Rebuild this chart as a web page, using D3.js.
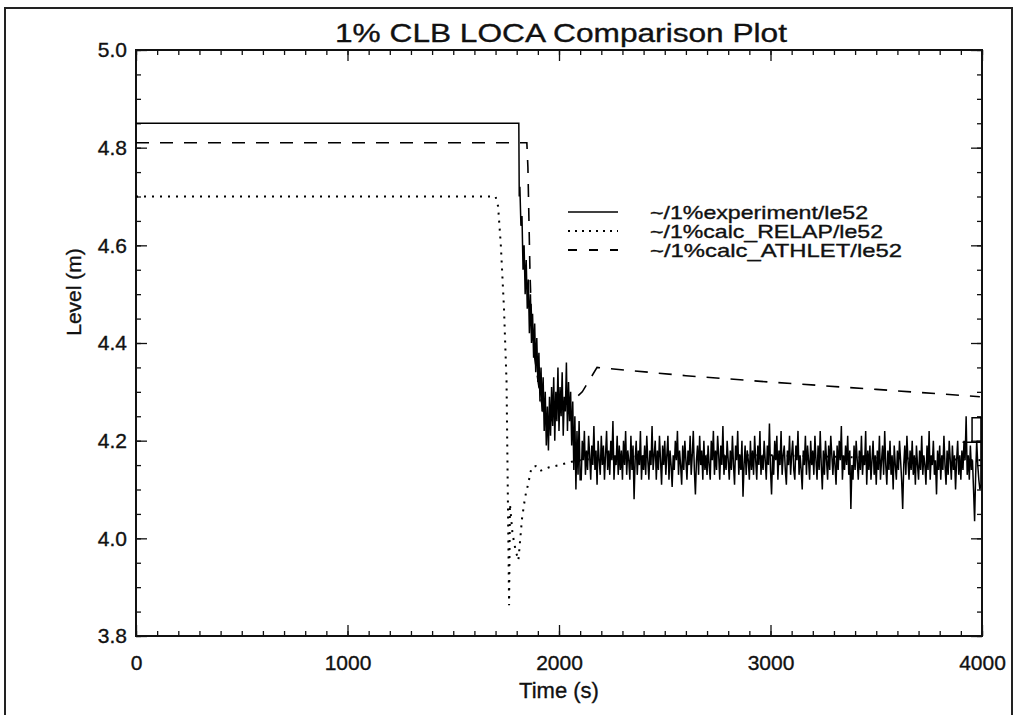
<!DOCTYPE html>
<html><head><meta charset="utf-8">
<script src="https://cdn.jsdelivr.net/npm/d3@7"></script>
<style>
body{margin:0;background:#fff}
text{font-family:"Liberation Sans",Arial,Helvetica,sans-serif;fill:#111;stroke:#111;stroke-width:0.35px}
</style>
</head><body>
<svg id="c" width="1017" height="715"></svg>
<script>
// ---------------- DATA ----------------
const titleText = "1% CLB LOCA Comparison Plot";
const xLabel = "Time (s)";
const yLabel = "Level (m)";
const xTicks = [0, 1000, 2000, 3000, 4000];
const xMinorTicks = d3.range(0, 4001, 100);
const yTicks = [3.8, 4.0, 4.2, 4.4, 4.6, 4.8, 5.0];
const yMinorTicks = d3.range(3.8, 5.0001, 0.05);
const seriesNames = ["~/1%experiment/le52", "~/1%calc_RELAP/le52", "~/1%calc_ATHLET/le52"];

// experiment: flat part, then sampled drop and noisy plateau
const expHead = [[0, 4.85], [1810, 4.85], [1812, 4.70]];
const expDropStart = 1815, expDropStep = 5;
const expDrop = [4.72, 4.64, 4.66, 4.55, 4.60, 4.50, 4.57, 4.47, 4.53, 4.42, 4.50, 4.40, 4.46, 4.37, 4.44, 4.34,
  4.41, 4.32, 4.38, 4.28, 4.35, 4.26, 4.33, 4.22, 4.30, 4.19, 4.27, 4.18, 4.29, 4.21, 4.31, 4.23, 4.33, 4.20,
  4.30, 4.24, 4.35, 4.22, 4.31, 4.25, 4.34, 4.21, 4.29, 4.26, 4.36, 4.22, 4.32, 4.24, 4.30, 4.19, 4.28, 4.14,
  4.25, 4.10, 4.22, 4.13, 4.24, 4.12];
const expNoiseStart = 2105, expNoiseStep = 5;
const expNoise = [
  4.12, 4.20, 4.16, 4.22, 4.13, 4.18, 4.14, 4.21, 4.17, 4.12, 4.19, 4.15, 4.23, 4.14, 4.18, 4.11, 4.20, 4.16, 4.13, 4.21,
  4.15, 4.19, 4.12, 4.17, 4.22, 4.14, 4.18, 4.13, 4.20, 4.16, 4.24, 4.12, 4.17, 4.15, 4.21, 4.13, 4.19, 4.14, 4.18, 4.12,
  4.20, 4.15, 4.22, 4.13, 4.18, 4.16, 4.12, 4.21, 4.14, 4.19, 4.08, 4.16, 4.20, 4.13, 4.18, 4.15, 4.22, 4.12, 4.17, 4.14,
  4.19, 4.13, 4.21, 4.16, 4.12, 4.18, 4.15, 4.23, 4.14, 4.17, 4.20, 4.12, 4.18, 4.14, 4.21, 4.16, 4.11, 4.19, 4.15, 4.20,
  4.13, 4.17, 4.21, 4.12, 4.18, 4.15, 4.105, 4.17, 4.14, 4.20, 4.16, 4.22, 4.13, 4.18, 4.15, 4.11, 4.19, 4.14, 4.20, 4.16,
  4.12, 4.18, 4.15, 4.21, 4.13, 4.17, 4.22, 4.14, 4.09, 4.16, 4.19, 4.13, 4.21, 4.15, 4.18, 4.12, 4.20, 4.14, 4.17, 4.13,
  4.19, 4.15, 4.12, 4.20, 4.16, 4.22, 4.13, 4.18, 4.14, 4.21, 4.17, 4.12, 4.19, 4.15, 4.23, 4.13, 4.17, 4.14, 4.20, 4.16,
  4.12, 4.18, 4.14, 4.21, 4.15, 4.11, 4.19, 4.16, 4.22, 4.13, 4.17, 4.14, 4.20, 4.085, 4.15, 4.19, 4.13, 4.18, 4.16, 4.12,
  4.20, 4.14, 4.18, 4.13, 4.21, 4.16, 4.12, 4.19, 4.15, 4.22, 4.13, 4.17, 4.14, 4.20, 4.16, 4.12, 4.19, 4.15, 4.235, 4.14,
  4.09, 4.17, 4.13, 4.20, 4.16, 4.21, 4.12, 4.18, 4.15, 4.22, 4.13, 4.17, 4.19, 4.14, 4.11, 4.18, 4.15, 4.21, 4.13, 4.17,
  4.20, 4.14, 4.12, 4.19, 4.16, 4.22, 4.13, 4.17, 4.14, 4.10, 4.18, 4.15, 4.21, 4.13, 4.19, 4.16, 4.12, 4.20, 4.15, 4.18,
  4.13, 4.21, 4.16, 4.12, 4.19, 4.14, 4.22, 4.15, 4.10, 4.18, 4.13, 4.20, 4.16, 4.12, 4.19, 4.14, 4.21, 4.17, 4.13, 4.18,
  4.15, 4.11, 4.19, 4.14, 4.20, 4.16, 4.23, 4.12, 4.17, 4.14, 4.19, 4.15, 4.21, 4.13, 4.18, 4.06, 4.15, 4.12, 4.19, 4.14,
  4.20, 4.16, 4.12, 4.18, 4.14, 4.21, 4.13, 4.17, 4.15, 4.22, 4.11, 4.18, 4.14, 4.19, 4.12, 4.16, 4.20, 4.13, 4.17, 4.11,
  4.18, 4.14, 4.21, 4.12, 4.16, 4.19, 4.13, 4.22, 4.15, 4.11, 4.18, 4.14, 4.20, 4.13, 4.17, 4.10, 4.19, 4.15, 4.12, 4.18,
  4.14, 4.20, 4.16, 4.12, 4.06, 4.15, 4.19, 4.13, 4.21, 4.16, 4.12, 4.18, 4.14, 4.20, 4.13, 4.17, 4.11, 4.19, 4.15, 4.12,
  4.18, 4.14, 4.21, 4.13, 4.17, 4.15, 4.11, 4.19, 4.14, 4.22, 4.12, 4.17, 4.15, 4.20, 4.13, 4.16, 4.09, 4.18, 4.14, 4.19,
  4.12, 4.17, 4.14, 4.21, 4.15, 4.11, 4.18, 4.13, 4.20, 4.16, 4.12, 4.19, 4.14, 4.17, 4.10, 4.16, 4.20, 4.13, 4.17, 4.12,
  4.18, 4.14, 4.20, 4.16, 4.25, 4.13, 4.17, 4.12, 4.19, 4.14, 4.16, 4.10, 4.035, 4.13, 4.20, 4.15, 4.12];
const expTail = [[3990, 4.10], [3995, 4.11], [3995, 4.247], [3953, 4.247], [3953, 4.197], [3908, 4.197], [3995, 4.197]];

const relap = [[0, 4.70], [1700, 4.70], [1712, 4.68], [1725, 4.60], [1740, 4.47], [1752, 4.32], [1764, 3.863],
  [1768, 4.07], [1780, 4.01], [1795, 3.975], [1808, 3.955], [1815, 3.99], [1825, 4.04], [1840, 4.085], [1855, 4.113],
  [1870, 4.145], [1890, 4.148], [1910, 4.138], [1950, 4.145], [2000, 4.15], [2060, 4.157], [2100, 4.16],
  [2200, 4.165], [2500, 4.17], [3000, 4.17], [3500, 4.165], [4000, 4.16]];

const athlet = [[0, 4.81], [1848, 4.81], [1853, 4.76], [1858, 4.65], [1863, 4.54], [1870, 4.45], [1885, 4.37],
  [1905, 4.31], [1925, 4.26], [1945, 4.23], [1975, 4.25], [2010, 4.27], [2060, 4.28], [2110, 4.30], [2180, 4.35],
  [2600, 4.333], [3000, 4.32], [3500, 4.305], [3990, 4.29]];

// ---------------- BUILD ----------------
const experiment = expHead
  .concat(expDrop.map((v, i) => [expDropStart + i * expDropStep, v]))
  .concat(expNoise.map((v, i) => [expNoiseStart + i * expNoiseStep, v]))
  .concat(expTail);

const svg = d3.select("#c");
const L = 136, R = 982, T = 50, B = 636;
const x = d3.scaleLinear().domain([0, 4000]).range([L, R]);
const y = d3.scaleLinear().domain([3.8, 5.0]).range([B, T]);

// outer frame
svg.append("rect").attr("x", 5).attr("y", 8).attr("width", 1007).attr("height", 740)
  .attr("fill", "none").attr("stroke", "#222").attr("stroke-width", 2);

// title
svg.append("text").attr("x", 561).attr("y", 42).attr("text-anchor", "middle")
  .attr("font-size", 26).attr("textLength", 452).attr("lengthAdjust", "spacingAndGlyphs").text(titleText);

function styleAxis(g) {
  g.select(".domain").remove();
  g.selectAll(".tick line").attr("stroke", "#111").attr("stroke-width", 1.3);
}
const fmt = d3.format(".1f");
// minor ticks
svg.append("g").attr("transform", `translate(0,${B})`)
  .call(d3.axisBottom(x).tickValues(xMinorTicks).tickSize(-5).tickFormat("")).call(styleAxis);
svg.append("g").attr("transform", `translate(0,${T})`)
  .call(d3.axisTop(x).tickValues(xMinorTicks).tickSize(-5).tickFormat("")).call(styleAxis);
svg.append("g").attr("transform", `translate(${L},0)`)
  .call(d3.axisLeft(y).tickValues(yMinorTicks).tickSize(-5).tickFormat("")).call(styleAxis);
svg.append("g").attr("transform", `translate(${R},0)`)
  .call(d3.axisRight(y).tickValues(yMinorTicks).tickSize(-5).tickFormat("")).call(styleAxis);
// major ticks
const gx = svg.append("g").attr("transform", `translate(0,${B})`)
  .call(d3.axisBottom(x).tickValues(xTicks).tickSize(-11).tickPadding(19).tickFormat(d3.format("d"))).call(styleAxis);
gx.selectAll("text").attr("font-size", 21).attr("fill", "#111").style("font-family", '"Liberation Sans",Arial,sans-serif');
svg.append("g").attr("transform", `translate(0,${T})`)
  .call(d3.axisTop(x).tickValues(xTicks).tickSize(-11).tickFormat("")).call(styleAxis);
const gy = svg.append("g").attr("transform", `translate(${L},0)`)
  .call(d3.axisLeft(y).tickValues(yTicks).tickSize(-11).tickPadding(9).tickFormat(fmt)).call(styleAxis);
gy.selectAll("text").attr("font-size", 21).attr("fill", "#111").style("font-family", '"Liberation Sans",Arial,sans-serif');
svg.append("g").attr("transform", `translate(${R},0)`)
  .call(d3.axisRight(y).tickValues(yTicks).tickSize(-11).tickFormat("")).call(styleAxis);

// plot box
svg.append("rect").attr("x", L).attr("y", T).attr("width", R - L).attr("height", B - T)
  .attr("fill", "none").attr("stroke", "#111").attr("stroke-width", 2);

// axis titles
svg.append("text").attr("x", 559).attr("y", 698).attr("text-anchor", "middle").attr("font-size", 22).text(xLabel);
svg.append("text").attr("transform", "translate(81,292) rotate(-90)").attr("text-anchor", "middle")
  .attr("font-size", 21).text(yLabel);

// series
const line = d3.line().x(d => x(d[0])).y(d => y(d[1]));
const styles = [
  {data: experiment, dash: null, w: 1.5},
  {data: relap, dash: "2,6", w: 2},
  {data: athlet, dash: "13,11", w: 1.6}
];
styles.forEach(s => {
  svg.append("path").datum(s.data).attr("d", line).attr("fill", "none").attr("stroke", "#000")
    .attr("stroke-width", s.w).attr("stroke-dasharray", s.dash).attr("stroke-linejoin", "miter");
});

// legend
const legY = [212, 231, 250];
const legW = [218, 233, 252];
const legDash = [null, "2,5", "9,12"];
seriesNames.forEach((n, i) => {
  svg.append("line").attr("x1", 568).attr("x2", 618).attr("y1", legY[i]).attr("y2", legY[i])
    .attr("stroke", "#000").attr("stroke-width", i === 0 ? 1.4 : 1.8).attr("stroke-dasharray", legDash[i]);
  svg.append("text").attr("x", 650).attr("y", legY[i] + 7).attr("font-size", 19)
    .attr("textLength", legW[i]).attr("lengthAdjust", "spacingAndGlyphs").text(n);
});
</script>
</body></html>
